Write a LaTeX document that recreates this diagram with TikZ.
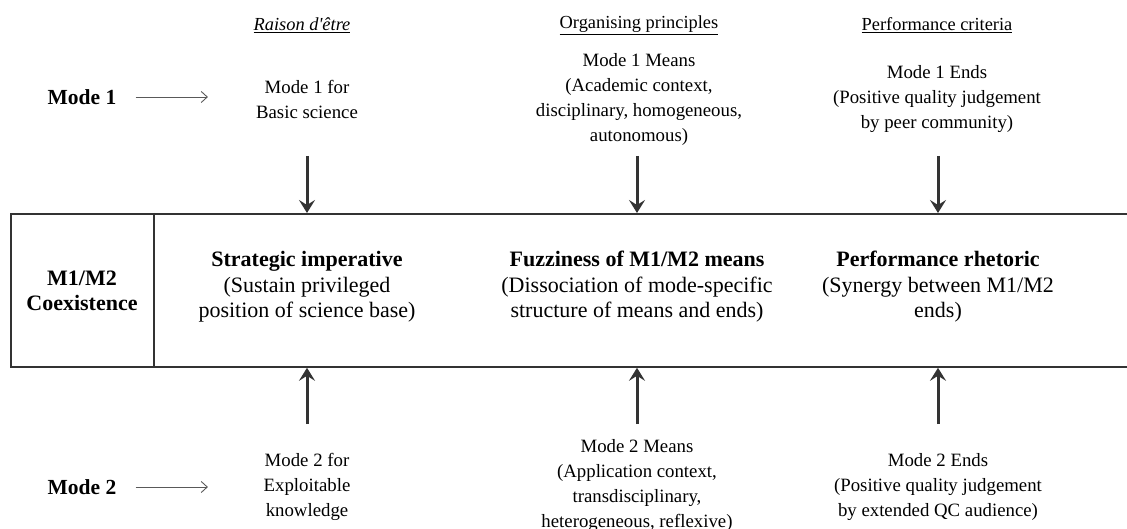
\documentclass[tikz,border=0pt]{standalone}
\usepackage{fontspec}
\setmainfont{Liberation Serif}
\newfontfamily\plainserif{Liberation Serif}
\usetikzlibrary{arrows.meta}
\begin{document}
\begin{tikzpicture}[x=1pt,y=-1pt,
  txt/.style={inner sep=0pt, align=center, font=\fontsize{18.8}{25}\selectfont},
  hdr/.style={inner sep=0pt, font=\fontsize{18.4}{22}\selectfont},
  modelabel/.style={inner sep=0pt, font=\fontsize{21.5}{25}\selectfont\bfseries},
  cell/.style={inner sep=0pt, align=center, font=\fontsize{22}{25.5}\selectfont},
  frame/.style={draw=black!80, line width=1.8pt},
  bigarrow/.style={draw=black!80, line width=3pt,
    -{Stealth[length=13pt,width=16pt,inset=5pt]}},
  thinarrow/.style={draw=black!65, line width=0.9pt,
    -{Straight Barb[length=6pt,width=11pt]}}
]
\useasboundingbox (0,0) rectangle (1127,529);
\clip (0,0) rectangle (1127,529);

% column headings
\node[hdr] (h1) at (302,25) {\underline{\plainserif\itshape Raison d'être}};
\node[hdr] (h2) at (639,25) {\underline{Organising principles}};
\node[hdr] (h3) at (937,25) {\underline{Performance criteria}};

% mode labels
\node[modelabel] (m1) at (82,97) {Mode 1};
\node[modelabel] (m2) at (82,487) {Mode 2};

% Mode 1 texts
\node[txt] (t1) at (307,99) {Mode 1 for\\Basic science};
\node[txt] (t2) at (639,99.5) {Mode 1 Means\\(Academic context,\\disciplinary, homogeneous,\\autonomous)};
\node[txt] (t3) at (937,99) {Mode 1 Ends\\(Positive quality judgement\\by peer community)};

% Mode 2 texts
\node[txt] (b1) at (307,487) {Mode 2 for\\Exploitable\\knowledge};
\node[txt] (b2) at (637,486) {Mode 2 Means\\(Application context,\\transdisciplinary,\\heterogeneous, reflexive)};
\node[txt] (b3) at (938,487) {Mode 2 Ends\\(Positive quality judgement\\by extended QC audience)};

% central band
\node[frame, minimum width=1140pt, minimum height=153pt, anchor=north west, inner sep=0pt]
  (box) at (10,213) {};
\draw[frame] (154,213) coordinate (divtop) -- (divtop |- box.south);
\node[cell] (coex) at (82,291) {\bfseries M1/M2\\\bfseries Coexistence};
\node[cell] (c1) at (307,287) {\textbf{Strategic imperative}\\(Sustain privileged\\position of science base)};
\node[cell] (c2) at (637,287) {\textbf{Fuzziness of M1/M2 means}\\(Dissociation of mode-specific\\structure of means and ends)};
\node[cell] (c3) at (938,287) {\textbf{Performance rhetoric}\\(Synergy between M1/M2\\ends)};

% thin arrows from the mode labels
\draw[thinarrow] ([xshift=19pt]m1.east) -- ([xshift=-48pt]m1.east -| t1.west);
\draw[thinarrow] ([xshift=19pt]m2.east) -- ([xshift=-48pt]m2.east -| t1.west);

% thick arrows into the band
\coordinate (u1) at (307,156);
\coordinate (u2) at (637,156);
\coordinate (u3) at (938,156);
\coordinate (d1) at (307,424);
\coordinate (d2) at (637,424);
\coordinate (d3) at (938,424);
\foreach \p in {u1,u2,u3} \draw[bigarrow] (\p) -- (\p |- box.north);
\foreach \p in {d1,d2,d3} \draw[bigarrow] (\p) -- (\p |- box.south);
\end{tikzpicture}
\end{document}
